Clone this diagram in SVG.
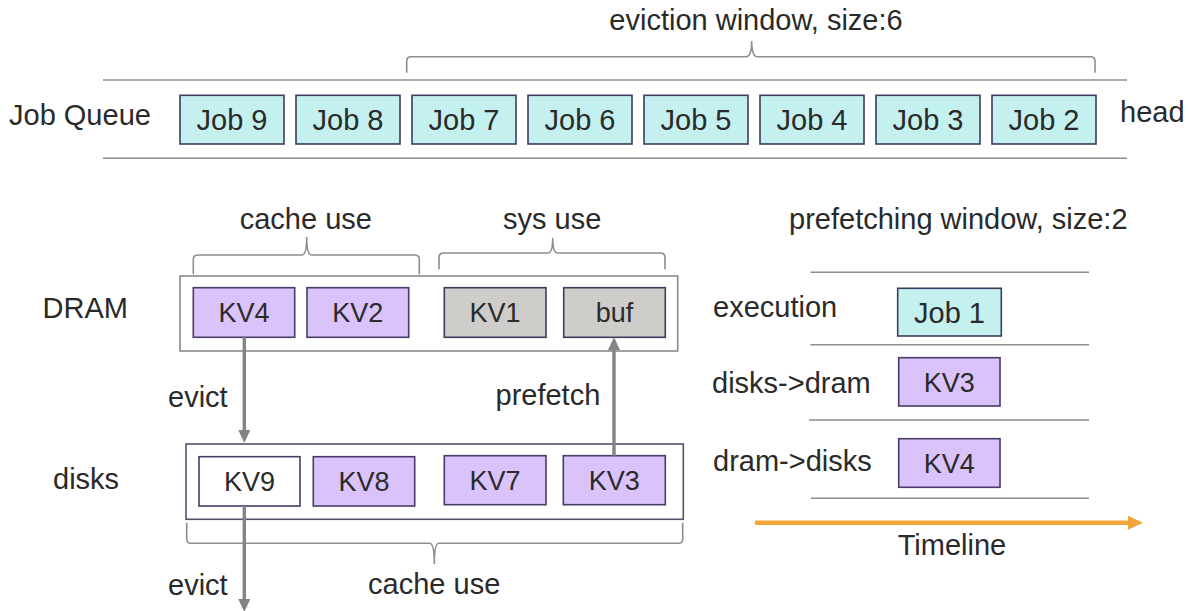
<svg xmlns="http://www.w3.org/2000/svg" width="1189" height="611" viewBox="0 0 1189 611">
  <defs>
    <style>
      text { font-family: "Liberation Sans", Arial, sans-serif; font-size: 29px; fill: #2a2a2a; }
      .mid { text-anchor: middle; }
      .kvt { font-size: 27px; }
      .job { fill: #c4f0f0; stroke: #3c3c5e; stroke-width: 1.6; }
      .kv { fill: #dac3fb; stroke: #4a3a68; stroke-width: 1.6; }
      .sys { fill: #cfcdca; stroke: #3c3c5e; stroke-width: 1.6; }
      .free { fill: #ffffff; stroke: #4a3a68; stroke-width: 1.6; }
      .rule { stroke: #8e8e8e; stroke-width: 1.6; fill: none; }
      .brace { stroke: #8e8e8e; stroke-width: 1.6; fill: none; }
      .holder { fill: none; stroke: #8a8a8a; stroke-width: 1.6; }
      .holder-disk { fill: none; stroke: #5c4e6c; stroke-width: 1.6; }
      .flow { stroke: #848484; stroke-width: 3.4; fill: none; marker-end: url(#head-gray); }
      .time { stroke: #f2a43a; stroke-width: 4.5; fill: none; marker-end: url(#head-orange); }
    </style>
    <marker id="head-gray" viewBox="0 0 13 12" markerWidth="13" markerHeight="12" markerUnits="userSpaceOnUse" refX="5" refY="6" orient="auto">
      <path d="M0,0 L13,6 L0,12 z" fill="#848484"/>
    </marker>
    <marker id="head-orange" viewBox="0 0 15 14" markerWidth="15" markerHeight="14" markerUnits="userSpaceOnUse" refX="5" refY="7" orient="auto">
      <path d="M0,0 L15,7 L0,14 z" fill="#f2a43a"/>
    </marker>
  </defs>

  <!-- job queue -->
  <g id="job-queue">
    <text x="756" y="30" class="mid">eviction window, size:6</text>
    <path class="brace" d="M406.7,72.7 V61 Q406.7,56.7 411,56.7 H746 Q751.7,56.7 751.7,41 Q751.7,56.7 757.4,56.7 H1090.5 Q1095,56.7 1095,61 V72.7"/>
    <line class="rule" x1="103" y1="80" x2="1127" y2="80"/>
    <line class="rule" x1="103" y1="158.3" x2="1127" y2="158.3"/>
    <text x="9" y="124.5">Job Queue</text>
    <text x="1120" y="122">head</text>
  </g>
  <g id="job9"><rect class="job" x="180" y="95.3" width="104" height="48.7"/><text class="mid" x="232" y="129.5">Job 9</text></g>
  <g id="job8"><rect class="job" x="296" y="95.3" width="104" height="48.7"/><text class="mid" x="348" y="129.5">Job 8</text></g>
  <g id="job7"><rect class="job" x="412" y="95.3" width="104" height="48.7"/><text class="mid" x="464" y="129.5">Job 7</text></g>
  <g id="job6"><rect class="job" x="528" y="95.3" width="104" height="48.7"/><text class="mid" x="580" y="129.5">Job 6</text></g>
  <g id="job5"><rect class="job" x="644" y="95.3" width="104" height="48.7"/><text class="mid" x="696" y="129.5">Job 5</text></g>
  <g id="job4"><rect class="job" x="760" y="95.3" width="104" height="48.7"/><text class="mid" x="812" y="129.5">Job 4</text></g>
  <g id="job3"><rect class="job" x="876" y="95.3" width="104" height="48.7"/><text class="mid" x="928" y="129.5">Job 3</text></g>
  <g id="job2"><rect class="job" x="992" y="95.3" width="104" height="48.7"/><text class="mid" x="1044" y="129.5">Job 2</text></g>

  <!-- DRAM tier -->
  <g id="dram">
    <text class="mid" x="305.8" y="229">cache use</text>
    <text class="mid" x="552.2" y="229">sys use</text>
    <path class="brace" d="M193.3,274.3 V259.5 Q193.3,255 198,255 H302 Q306.7,255 306.7,237 Q306.7,255 311.4,255 H414.6 Q419.3,255 419.3,259.5 V274.3"/>
    <path class="brace" d="M439,269.3 V257.5 Q439,253 443.5,253 H548 Q552.7,253 552.7,238 Q552.7,253 557.4,253 H660.5 Q665,253 665,257.5 V269.3"/>
    <rect class="holder" x="180" y="276" width="497.7" height="75"/>
    <text x="42.5" y="318">DRAM</text>
  </g>
  <g id="kv4-dram"><rect class="kv" x="193.3" y="287.7" width="101.4" height="49.6"/><text class="mid kvt" x="244" y="322">KV4</text></g>
  <g id="kv2-dram"><rect class="kv" x="307" y="287.7" width="101.7" height="49.6"/><text class="mid kvt" x="357.8" y="322">KV2</text></g>
  <g id="kv1-dram"><rect class="sys" x="444.3" y="287.7" width="101.7" height="49.6"/><text class="mid kvt" x="495.1" y="322">KV1</text></g>
  <g id="buf-dram"><rect class="sys" x="563.7" y="287.7" width="101.6" height="49.6"/><text class="mid kvt" x="614.5" y="322">buf</text></g>

  <!-- disk tier -->
  <g id="disks">
    <rect class="holder-disk" x="186" y="444" width="497.3" height="75.3"/>
    <text x="53" y="488.5">disks</text>
    <path class="brace" d="M186.7,522.7 V539 Q186.7,543.3 191,543.3 H429.6 Q434.3,543.3 434.3,564 Q434.3,543.3 439,543.3 H678.2 Q682.7,543.3 682.7,539 V522.7"/>
    <text class="mid" x="434.2" y="593.5">cache use</text>
  </g>
  <g id="kv9-disk"><rect class="free" x="199" y="456.7" width="101" height="49.3"/><text class="mid kvt" x="249.5" y="491">KV9</text></g>
  <g id="kv8-disk"><rect class="kv" x="313.3" y="456.7" width="101.4" height="49.3"/><text class="mid kvt" x="364" y="491">KV8</text></g>
  <g id="kv7-disk"><rect class="kv" x="444.3" y="455.7" width="101.7" height="49"/><text class="mid kvt" x="495.1" y="490">KV7</text></g>
  <g id="kv3-disk"><rect class="kv" x="563.3" y="455.7" width="102" height="49"/><text class="mid kvt" x="614.3" y="490">KV3</text></g>

  <!-- prefetching window -->
  <g id="prefetch-window">
    <text class="mid" x="958.3" y="229">prefetching window, size:2</text>
    <line class="rule" x1="810.5" y1="272.3" x2="1089" y2="272.3"/>
    <line class="rule" x1="810.5" y1="344.7" x2="1089" y2="344.7"/>
    <line class="rule" x1="809" y1="420" x2="1089" y2="420"/>
    <line class="rule" x1="811" y1="498.3" x2="1089" y2="498.3"/>
    <text x="713" y="317">execution</text>
    <text x="712" y="393">disks-&gt;dram</text>
    <text x="713" y="471">dram-&gt;disks</text>
    <text class="mid" x="952" y="555">Timeline</text>
  </g>
  <g id="job1-exec"><rect class="job" x="897.7" y="288.3" width="103.6" height="47.7"/><text class="mid" x="949.5" y="322.5">Job 1</text></g>
  <g id="kv3-load"><rect class="kv" x="898.7" y="357.7" width="101.3" height="48.3"/><text class="mid kvt" x="949.3" y="392">KV3</text></g>
  <g id="kv4-store"><rect class="kv" x="898.7" y="438.7" width="101.3" height="48.6"/><text class="mid kvt" x="949.3" y="473">KV4</text></g>

  <!-- connectors -->
  <g id="connectors">
    <line class="flow" x1="244.3" y1="337.3" x2="244.3" y2="435"/>
    <line class="flow" x1="614" y1="455.7" x2="614" y2="345"/>
    <line class="flow" x1="244.3" y1="506" x2="244.3" y2="604"/>
    <line class="time" x1="755" y1="522.7" x2="1133" y2="522.7"/>
    <text x="168" y="406.7">evict</text>
    <text x="495.5" y="405">prefetch</text>
    <text x="168" y="595">evict</text>
  </g>
</svg>
